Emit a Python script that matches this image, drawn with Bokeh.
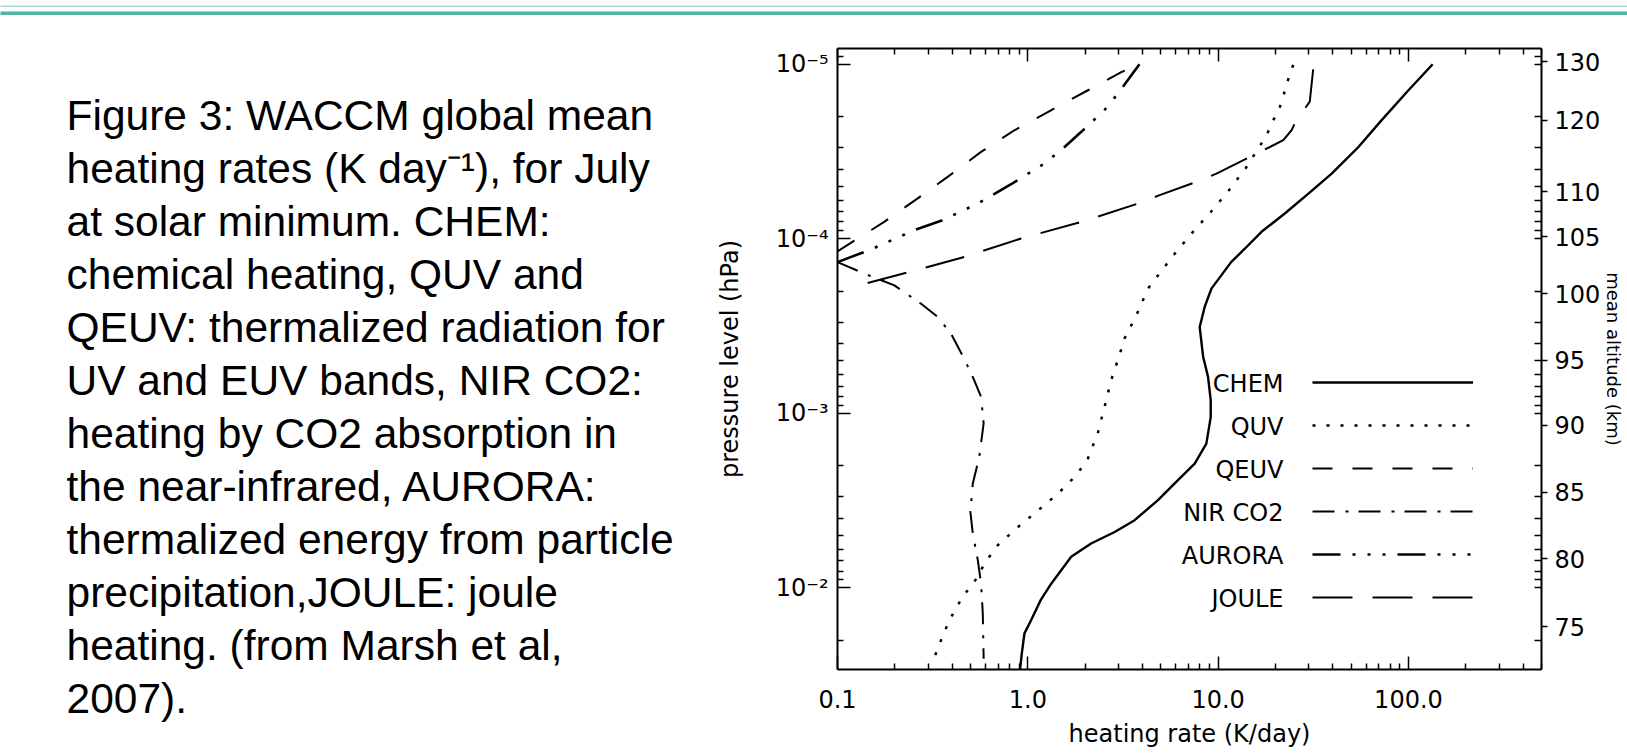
from bokeh.plotting import figure
from bokeh.layouts import column, row
from bokeh.models import (Range1d, LogAxis, FixedTicker, CustomJSTickFormatter,
                          PrintfTickFormatter, Legend, LegendItem, Label)
from bokeh.embed import file_html
from bokeh.resources import INLINE

# ---------------- data (pressure in hPa, heating rate in K/day) ----------------
chem_p = [1.0e-5, 1.41e-5, 2.09e-5, 2.98e-5, 4.23e-5, 5.51e-5, 7.16e-5, 9.12e-5, 1.14e-4,
          1.36e-4, 1.93e-4, 2.45e-4, 3.2e-4, 4.74e-4, 6.18e-4, 8.4e-4, 1.05e-3, 1.49e-3,
          1.94e-3, 2.41e-3, 3.14e-3, 4.09e-3, 4.78e-3, 5.56e-3, 6.63e-3, 9.42e-3, 1.17e-2,
          1.53e-2, 1.82e-2, 2.37e-2, 2.93e-2]
chem_q = [134, 100, 72.3, 54.6, 39.5, 29.8, 22.4, 16.9, 13.8,
          11.7, 9.22, 8.5, 8.0, 8.34, 8.85, 9.14, 9.14, 8.67,
          7.53, 6.15, 4.83, 3.64, 2.86, 2.15, 1.69, 1.33, 1.17,
          1.04, 0.96, 0.93, 0.91]

quv_p = [1.01e-5, 1.21e-5, 1.47e-5, 1.76e-5, 2.07e-5, 2.44e-5, 2.87e-5, 3.92e-5, 5.27e-5,
         7.02e-5, 9.33e-5, 1.23e-4, 1.67e-4, 1.93e-4, 2.74e-4, 3.73e-4, 4.64e-4, 6.46e-4,
         9.18e-4, 1.30e-3, 1.81e-3, 2.26e-3, 2.88e-3, 3.66e-3, 4.56e-3, 5.69e-3, 7.08e-3,
         9.22e-3, 1.12e-2, 1.53e-2, 1.99e-2, 2.65e-2]
quv_q = [24.8, 23.4, 22.2, 21.1, 19.6, 18.3, 16.8, 14.0, 11.4,
         9.15, 7.24, 5.87, 4.73, 4.28, 3.72, 3.22, 3.03, 2.74,
         2.53, 2.33, 2.07, 1.80, 1.44, 1.11, 0.87, 0.695, 0.60,
         0.524, 0.455, 0.387, 0.35, 0.316]

qeuv_p = [1.18e-4, 8.0e-5, 5.87e-5, 4.42e-5, 3.18e-5, 2.39e-5, 1.83e-5, 1.41e-5, 1.11e-5, 1.0e-5]
qeuv_q = [0.1, 0.176, 0.264, 0.379, 0.568, 0.85, 1.33, 2.07, 3.10, 3.86]

nir_p = [1.36e-4, 1.58e-4, 1.85e-4, 2.35e-4, 2.8e-4, 3.5e-4, 4.86e-4, 6.46e-4, 8.04e-4,
         1.14e-3, 1.77e-3, 2.52e-3, 3.66e-3, 4.88e-3, 6.93e-3, 9.42e-3, 1.40e-2, 2.54e-2]
nir_q = [0.1, 0.138, 0.199, 0.274, 0.336, 0.395, 0.463, 0.523, 0.568,
         0.586, 0.556, 0.514, 0.499, 0.514, 0.546, 0.568, 0.580, 0.586]

aurora_p = [1.36e-4, 1.15e-4, 8.93e-5, 7.89e-5, 6.28e-5, 4.87e-5, 3.71e-5, 2.98e-5,
            2.44e-5, 1.83e-5, 1.47e-5, 1.0e-5]
aurora_q = [0.1, 0.150, 0.253, 0.350, 0.546, 0.817, 1.22, 1.56, 1.91, 2.53, 2.98, 3.86]

joule_p = [1.79e-4, 1.45e-4, 1.27e-4, 9.96e-5, 8.0e-5, 6.28e-5, 5.62e-5, 4.72e-5, 4.23e-5,
           3.32e-5, 2.98e-5, 2.72e-5, 2.39e-5, 2.09e-5, 1.64e-5, 1.29e-5, 1.0e-5]
joule_q = [0.144, 0.298, 0.464, 0.922, 1.91, 3.80, 4.93, 7.69, 9.8,
           15.3, 18.7, 22.0, 24.3, 25.8, 30.3, 31.0, 31.8]

series_names = ["CHEM", "QUV", "QEUV", "NIR CO2", "AURORA", "JOULE"]

x_major = [0.1, 1.0, 10.0, 100.0]
y_major = [1e-5, 1e-4, 1e-3, 1e-2]
alt_p = [9.7e-6, 2.09e-5, 5.38e-5, 9.75e-5, 2.06e-4, 4.95e-4, 1.17e-3, 2.82e-3, 6.78e-3, 1.67e-2]
alt_labels = ["130", "120", "110", "105", "100", "95", "90", "85", "80", "75"]

caption_lines = [
    "Figure 3: WACCM global mean",
    "heating rates (K day\u207b\u00b9), for July",
    "at solar minimum. CHEM:",
    "chemical heating, QUV and",
    "QEUV: thermalized radiation for",
    "UV and EUV bands, NIR CO2:",
    "heating by CO2 absorption in",
    "the near-infrared, AURORA:",
    "thermalized energy from particle",
    "precipitation,JOULE: joule",
    "heating. (from Marsh et al,",
    "2007).",
]

# ---------------- layout constants ----------------
W, H = 1627, 755
BAND1, BAND2 = 7, 8
TEXT_W = 700
CH_W = W - TEXT_W
CH_H = H - BAND1 - BAND2
B_TOP, B_BOT, B_LEFT, B_RIGHT = 33, 86, 137, 86
FONT = "DejaVu Sans"
X_LO, X_HI = 0.1, 500.0
P_BOT, P_TOP = 0.0293, 8.13e-6

x_minor = [k * 10.0 ** e for e in range(-1, 3) for k in range(2, 10) if k * 10.0 ** e <= X_HI]
y_minor = [k * 10.0 ** e for e in range(-6, -1) for k in range(2, 10) if P_TOP <= k * 10.0 ** e <= P_BOT]
y_right_marks = sorted(y_minor + y_major)

SUP_JS = """
const sup = {"-": "\\u207b", "0": "\\u2070", "1": "\\u00b9", "2": "\\u00b2", "3": "\\u00b3",
             "4": "\\u2074", "5": "\\u2075", "6": "\\u2076", "7": "\\u2077", "8": "\\u2078", "9": "\\u2079"};
const e = Math.round(Math.log10(tick));
return "10" + String(e).split("").map((c) => sup[c]).join("");
"""

ALT_JS = """
let best = 0; let bd = Infinity;
for (let i = 0; i < ps.length; i++) {
  const d = Math.abs(Math.log(ps[i]) - Math.log(tick));
  if (d < bd) { bd = d; best = i; }
}
return labs[best];
"""

# ---------------- chart ----------------
p = figure(width=CH_W, height=CH_H, x_axis_type="log", y_axis_type="log",
           x_range=Range1d(X_LO, X_HI), y_range=Range1d(P_BOT, P_TOP),
           toolbar_location=None, output_backend="svg", title=None,
           min_border_left=B_LEFT, min_border_right=B_RIGHT,
           min_border_top=B_TOP, min_border_bottom=B_BOT,
           background_fill_color="white", border_fill_color="white", outline_line_color=None)
p.xgrid.visible = False
p.ygrid.visible = False


def style_axis(ax):
    ax.axis_line_width = 2
    ax.axis_line_color = "black"
    ax.major_tick_line_width = 1.5
    ax.minor_tick_line_width = 1.5
    ax.major_tick_line_color = "black"
    ax.minor_tick_line_color = "black"
    ax.major_tick_in = 13
    ax.major_tick_out = 0
    ax.minor_tick_in = 6
    ax.minor_tick_out = 0
    ax.major_label_text_font = FONT
    ax.major_label_text_font_size = "24px"
    ax.major_label_text_color = "black"
    ax.axis_label_text_font = FONT
    ax.axis_label_text_font_style = "normal"
    ax.axis_label_text_color = "black"
    ax.axis_label_text_font_size = "24px"


xb = p.xaxis[0]
xb.ticker = FixedTicker(ticks=x_major, minor_ticks=x_minor)
xb.formatter = PrintfTickFormatter(format="%.1f")
style_axis(xb)
xb.major_label_standoff = 20
xb.axis_label = "heating rate (K/day)"
xb.axis_label_standoff = 9

yl = p.yaxis[0]
yl.ticker = FixedTicker(ticks=y_major, minor_ticks=y_minor)
yl.formatter = CustomJSTickFormatter(code=SUP_JS)
style_axis(yl)
yl.major_label_standoff = 9
yl.axis_label = "pressure level (hPa)"
yl.axis_label_standoff = 29

xt = LogAxis(ticker=FixedTicker(ticks=x_major, minor_ticks=x_minor),
             formatter=CustomJSTickFormatter(code='return ""'))
style_axis(xt)
xt.major_label_text_font_size = "0px"
xt.major_label_standoff = 0
p.add_layout(xt, "above")

yr = LogAxis(ticker=FixedTicker(ticks=alt_p, minor_ticks=y_right_marks),
             formatter=CustomJSTickFormatter(args=dict(ps=alt_p, labs=alt_labels), code=ALT_JS))
style_axis(yr)
yr.major_tick_in = 0
yr.major_tick_out = 6
yr.minor_tick_in = 7
yr.minor_tick_out = 0
yr.major_label_text_font_size = "24px"
yr.major_label_standoff = 7
yr.axis_label = "mean altitude (km)"
yr.axis_label_text_font_size = "18px"
yr.axis_label_standoff = 0
p.add_layout(yr, "right")

line_styles = {
    "CHEM": dict(line_width=2.4, line_dash="solid"),
    "QUV": dict(line_width=2.5, line_dash="3 11"),
    "QEUV": dict(line_width=2, line_dash="20 20"),
    "NIR CO2": dict(line_width=2, line_dash="22 11 3 10"),
    "AURORA": dict(line_width=2.6, line_dash="28 12 3 12 3 12 3 12"),
    "JOULE": dict(line_width=2, line_dash="40 20"),
}
series = {
    "CHEM": (chem_q, chem_p),
    "QUV": (quv_q, quv_p),
    "QEUV": (qeuv_q, qeuv_p),
    "NIR CO2": (nir_q, nir_p),
    "AURORA": (aurora_q, aurora_p),
    "JOULE": (joule_q, joule_p),
}
renderers = []
for name in series_names:
    xs, ys = series[name]
    renderers.append(p.line(x=xs, y=ys, line_color="black", **line_styles[name]))

# legend: line samples on the right, names right-aligned on the left (IDL style)
LEG_GLYPH_X, LEG_BOTTOM = 475, 62          # px from frame left / bottom
LEG_TEXT_X, LEG_ROW0_Y, LEG_DY = 446, 286, 43
legend = Legend(items=[LegendItem(label=" ", renderers=[r]) for r in renderers],
                location=(LEG_GLYPH_X, LEG_BOTTOM), glyph_width=161, glyph_height=20, spacing=23,
                padding=0, margin=0, label_standoff=0, label_text_font_size="1px",
                border_line_color=None, background_fill_alpha=0)
p.add_layout(legend)
for i, name in enumerate(series_names):
    p.add_layout(Label(x=LEG_TEXT_X, y=LEG_ROW0_Y - i * LEG_DY, x_units="screen", y_units="screen",
                       text=name, text_align="right", text_baseline="middle",
                       text_font=FONT, text_font_size="24px", text_color="black"))

# ---------------- caption ----------------
CAP_X, CAP_Y0, CAP_DY = 66, 100, 53        # left edge, first line anchor, line pitch (px, from top)
tf = figure(width=TEXT_W, height=CH_H, x_range=Range1d(0, 1), y_range=Range1d(0, 1),
            toolbar_location=None, output_backend="svg", title=None,
            min_border=0, min_border_left=0, min_border_right=0, min_border_top=0, min_border_bottom=0,
            x_axis_type=None, y_axis_type=None, outline_line_color=None,
            background_fill_color="white", border_fill_color="white")
try:
    tf.frame_align = False        # keep the caption canvas independent of the chart's frame
except Exception:
    pass
for i, line in enumerate(caption_lines):
    tf.add_layout(Label(x=CAP_X, y=CH_H - (CAP_Y0 + i * CAP_DY), x_units="screen", y_units="screen",
                        text=line, text_align="left", text_baseline="alphabetic",
                        text_font="Liberation Sans", text_font_size="42.5px", text_color="black"))


# ---------------- top band ----------------
def band(h, color):
    return figure(width=W, height=h, toolbar_location=None, output_backend="svg", title=None,
                  min_border=0, x_axis_type=None, y_axis_type=None, outline_line_color=None,
                  background_fill_color=color, border_fill_color=color)


layout = column(band(BAND1, "#A6DAD2"), band(BAND2, "#4FB6A2"), row(tf, p))

with open("out.html", "w", encoding="utf-8") as f:
    f.write(file_html(layout, INLINE))
